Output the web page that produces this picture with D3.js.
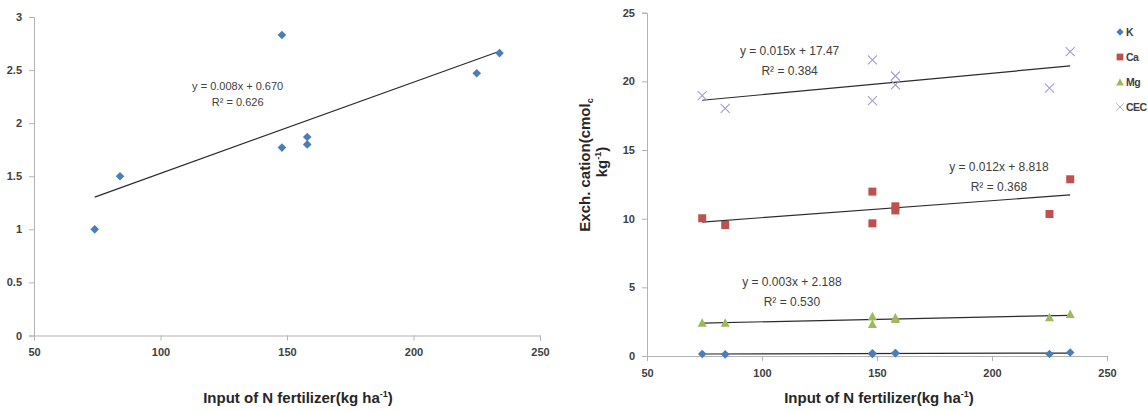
<html>
<script src="https://cdn.jsdelivr.net/npm/d3@7"></script>
<head>
    <style>
        body {
            margin: 0;
            background: white;
            font-family: "Liberation Sans", Arial, sans-serif;
        }
        .tick text {
            font-weight: bold;
            font-size: 11px;
            fill: #404040;
        }
        .tick line, .domain {
            stroke: #b3b3b3;
        }
    </style>
</head>
<body>
<svg id="chart" width="1148" height="411"></svg>
<script>
// N fertilizer input (kg/ha), shared by both panels
let nInput = [74, 84, 148, 148, 158, 158, 225, 234]

// left panel values
let leftValues = [1.0, 1.5, 2.83, 1.77, 1.87, 1.80, 2.47, 2.66]
let leftEquation = ["y = 0.008x + 0.670", "R² = 0.626"]

// right panel, exchangeable cations
let seriesNames = ["K", "Ca", "Mg", "CEC"]
let kValues = [0.15, 0.12, 0.2, 0.15, 0.22, 0.2, 0.15, 0.25]
let caValues = [10.03, 9.54, 11.97, 9.66, 10.9, 10.6, 10.34, 12.87]
let mgValues = [2.42, 2.42, 2.9, 2.33, 2.8, 2.7, 2.82, 3.06]
let cecValues = [18.96, 18.04, 21.56, 18.6, 20.39, 19.74, 19.5, 22.16]
let cecEquation = ["y = 0.015x + 17.47", "R² = 0.384"]
let caEquation = ["y = 0.012x + 8.818", "R² = 0.368"]
let mgEquation = ["y = 0.003x + 2.188", "R² = 0.530"]

// tick labels
let xTicks = [50, 100, 150, 200, 250]
let leftYTicks = [0, 0.5, 1, 1.5, 2, 2.5, 3]
let rightYTicks = [0, 5, 10, 15, 20, 25]

let svg = d3.select("#chart")

let markers = {
    diamond: "M0,-4.3L4.3,0L0,4.3L-4.3,0Z",
    square: "M-4,-4L4,-4L4,4L-4,4Z",
    triangle: "M0,-4.5L4.5,4L-4.5,4Z",
    cross: "M-4.5,-4.5L4.5,4.5M-4.5,4.5L4.5,-4.5"
}

function fit(xs, ys) {
    // least squares trend line
    let mx = d3.mean(xs), my = d3.mean(ys)
    let sxy = d3.sum(xs, (x, i) => (x - mx) * (ys[i] - my))
    let sxx = d3.sum(xs, x => (x - mx) * (x - mx))
    let slope = sxy / sxx
    return { slope, intercept: my - slope * mx }
}

function drawAxes(xScale, yScale, yTicks) {
    let y0 = yScale.range()[0]
    let x0 = xScale.range()[0]
    svg.append("g")
        .attr("transform", `translate(0,${y0})`)
        .call(d3.axisBottom(xScale).tickValues(xTicks).tickSize(5).tickPadding(8).tickFormat(d3.format("")))
    svg.append("g")
        .attr("transform", `translate(${x0},0)`)
        .call(d3.axisLeft(yScale).tickValues(yTicks).tickSize(5).tickPadding(7).tickFormat(d => String(d)))
    svg.selectAll(".domain").attr("stroke", "#b3b3b3")
}

function drawTrend(xScale, yScale, ys) {
    let f = fit(nInput, ys)
    let ends = d3.extent(nInput)
    svg.append("line")
        .attr("x1", xScale(ends[0])).attr("y1", yScale(f.intercept + f.slope * ends[0]))
        .attr("x2", xScale(ends[1])).attr("y2", yScale(f.intercept + f.slope * ends[1]))
        .attr("stroke", "#2b2b2b")
        .attr("stroke-width", 1.2)
}

function drawPoints(xScale, yScale, ys, shape, color) {
    svg.append("g").selectAll("path")
        .data(ys)
        .enter().append("path")
        .attr("transform", (d, i) => `translate(${xScale(nInput[i])},${yScale(d)})`)
        .attr("d", markers[shape])
        .attr("fill", shape == "cross" ? "none" : color)
        .attr("stroke", shape == "cross" ? color : "none")
        .attr("stroke-width", 1.1)
}

function drawEquation(lines, x, y, size, gap) {
    let t = svg.append("text")
        .attr("x", x).attr("y", y)
        .attr("text-anchor", "middle")
        .attr("font-size", size)
        .attr("fill", "#404040")
    t.append("tspan").attr("x", x).text(lines[0])
    t.append("tspan").attr("x", x).attr("dy", gap).text(lines[1])
}

function xTitle(cx) {
    let t = svg.append("text")
        .attr("x", cx).attr("y", 403)
        .attr("text-anchor", "middle")
        .attr("font-size", 15)
        .attr("font-weight", "bold")
        .attr("fill", "#262626")
    t.append("tspan").text("Input of N fertilizer(kg  ha")
    t.append("tspan").attr("dy", -6).attr("font-size", 9).text("-1")
    t.append("tspan").attr("dy", 6).text(")")
}

// ---- left panel ----
let lx = d3.scaleLinear().domain([50, 250]).range([34, 540])
let ly = d3.scaleLinear().domain([0, 3]).range([335.5, 17])
drawAxes(lx, ly, leftYTicks)
drawTrend(lx, ly, leftValues)
drawPoints(lx, ly, leftValues, "diamond", "#4a7ebb")
drawEquation(leftEquation, lx(130.5), ly(2.31), 11, 16)
xTitle(298)

// ---- right panel ----
let rx = d3.scaleLinear().domain([50, 250]).range([647, 1107])
let ry = d3.scaleLinear().domain([0, 25]).range([356, 12.7])
drawAxes(rx, ry, rightYTicks)

let series = [
    { name: seriesNames[0], values: kValues, shape: "diamond", color: "#4a7ebb" },
    { name: seriesNames[1], values: caValues, shape: "square", color: "#c0504d" },
    { name: seriesNames[2], values: mgValues, shape: "triangle", color: "#9bbb59" },
    { name: seriesNames[3], values: cecValues, shape: "cross", color: "#a49ccf" }
]
series.forEach(s => drawTrend(rx, ry, s.values))
series.forEach(s => drawPoints(rx, ry, s.values, s.shape, s.color))

drawEquation(cecEquation, rx(112), ry(21.95), 12, 20)
drawEquation(caEquation, rx(203), ry(13.45), 12, 20)
drawEquation(mgEquation, rx(113), ry(5.1), 12, 20)
xTitle(879)

// y title of right panel
let yt = svg.append("text")
    .attr("transform", "translate(590,165) rotate(-90)")
    .attr("text-anchor", "middle")
    .attr("font-size", 15)
    .attr("font-weight", "bold")
    .attr("fill", "#262626")
yt.append("tspan").text("Exch. cation(cmol")
yt.append("tspan").attr("dy", 3).attr("font-size", 9).text("c")
let yt2 = svg.append("text")
    .attr("transform", "translate(607,162) rotate(-90)")
    .attr("text-anchor", "middle")
    .attr("font-size", 15)
    .attr("font-weight", "bold")
    .attr("fill", "#262626")
yt2.append("tspan").text("kg")
yt2.append("tspan").attr("dy", -6).attr("font-size", 9).text("-1")
yt2.append("tspan").attr("dy", 6).text(")")

// legend
let legend = svg.append("g").selectAll("g")
    .data(series)
    .enter().append("g")
    .attr("transform", (d, i) => `translate(1120,${32 + i * 25})`)
legend.append("path")
    .attr("d", d => markers[d.shape])
    .attr("transform", "scale(0.85)")
    .attr("fill", d => d.shape == "cross" ? "none" : d.color)
    .attr("stroke", d => d.shape == "cross" ? d.color : "none")
legend.append("text")
    .attr("x", 6).attr("y", 4)
    .attr("font-size", 10.5)
    .attr("font-weight", "bold")
    .attr("letter-spacing", -0.6)
    .attr("fill", "#404040")
    .text(d => d.name)
</script>
</body>
</html>
